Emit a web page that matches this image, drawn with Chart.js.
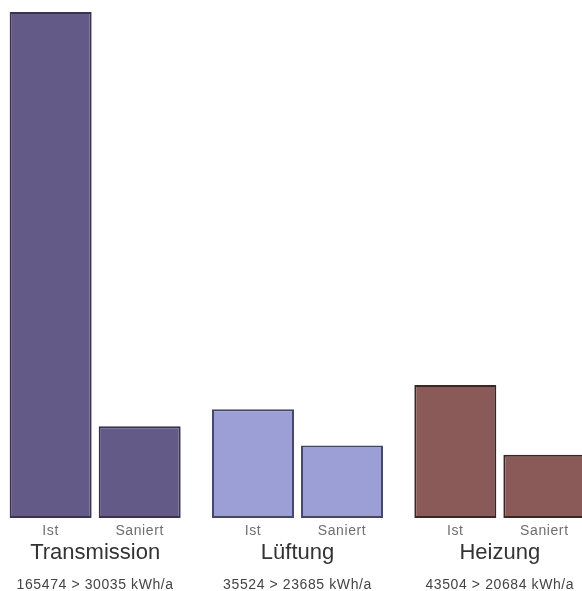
<!DOCTYPE html>
<html>
<head>
<meta charset="utf-8">
<script src="https://cdn.jsdelivr.net/npm/chart.js@4/dist/chart.umd.min.js"></script>
<style>
  html, body { margin: 0; padding: 0; background: #fff; overflow: hidden; }
  body { width: 582px; height: 591px; position: relative; }
  #wrap { position: absolute; left: -6px; top: 0; width: 607px; height: 591px; }
</style>
</head>
<body>
<div id="wrap"><canvas id="chart"></canvas></div>
<script>
const categories = ["Transmission", "Lüftung", "Heizung"];
const seriesLabels = ["Ist", "Saniert"];
const istValues = [165474, 35524, 43504];
const saniertValues = [30035, 23685, 20684];
const unit = "kWh/a";

const fillColors = ["#645a88", "#9c9fd6", "#8a5a58"];
const borderColors = ["#39334f", "#45476a", "#3a2625"];

// labels under each bar, category name and summary line
const labelPlugin = {
  id: "groupLabels",
  afterDraw(chart) {
    const ctx = chart.ctx;
    const bottom = chart.chartArea.bottom;
    const x = chart.scales.x;
    ctx.save();
    ctx.textAlign = "center";
    ctx.textBaseline = "alphabetic";

    ctx.font = "14px 'Liberation Sans', Arial, sans-serif";
    ctx.letterSpacing = "0.6px";
    ctx.fillStyle = "#6e6e6e";
    chart.data.datasets.forEach((ds, di) => {
      chart.getDatasetMeta(di).data.forEach((bar) => {
        ctx.fillText(ds.label, bar.x, bottom + 17);
      });
    });

    ctx.letterSpacing = "0px";
    ctx.font = "22px 'Liberation Sans', Arial, sans-serif";
    ctx.fillStyle = "#333";
    categories.forEach((c, i) => ctx.fillText(c, x.getPixelForValue(i), bottom + 41));

    ctx.font = "14px 'Liberation Sans', Arial, sans-serif";
    ctx.letterSpacing = "0.6px";
    ctx.fillStyle = "#444";
    categories.forEach((c, i) => {
      ctx.fillText(istValues[i] + " > " + saniertValues[i] + " " + unit, x.getPixelForValue(i), bottom + 71);
    });
    ctx.restore();
  }
};

new Chart(document.getElementById("chart").getContext("2d"), {
  type: "bar",
  data: {
    labels: categories,
    datasets: [
      { label: seriesLabels[0], data: istValues, backgroundColor: fillColors, borderColor: borderColors, borderWidth: 2, borderSkipped: false },
      { label: seriesLabels[1], data: saniertValues, backgroundColor: fillColors, borderColor: borderColors, borderWidth: 2, borderSkipped: false }
    ]
  },
  options: {
    responsive: true,
    maintainAspectRatio: false,
    animation: false,
    layout: { padding: { top: 12, bottom: 73, left: 0, right: 0 } },
    datasets: { bar: { categoryPercentage: 0.88, barPercentage: 0.921 } },
    plugins: { legend: { display: false }, tooltip: { enabled: false } },
    scales: {
      x: { display: false, grid: { display: false } },
      y: { display: false, min: 0, max: 165474, grid: { display: false } }
    }
  },
  plugins: [labelPlugin]
});
</script>
</body>
</html>
